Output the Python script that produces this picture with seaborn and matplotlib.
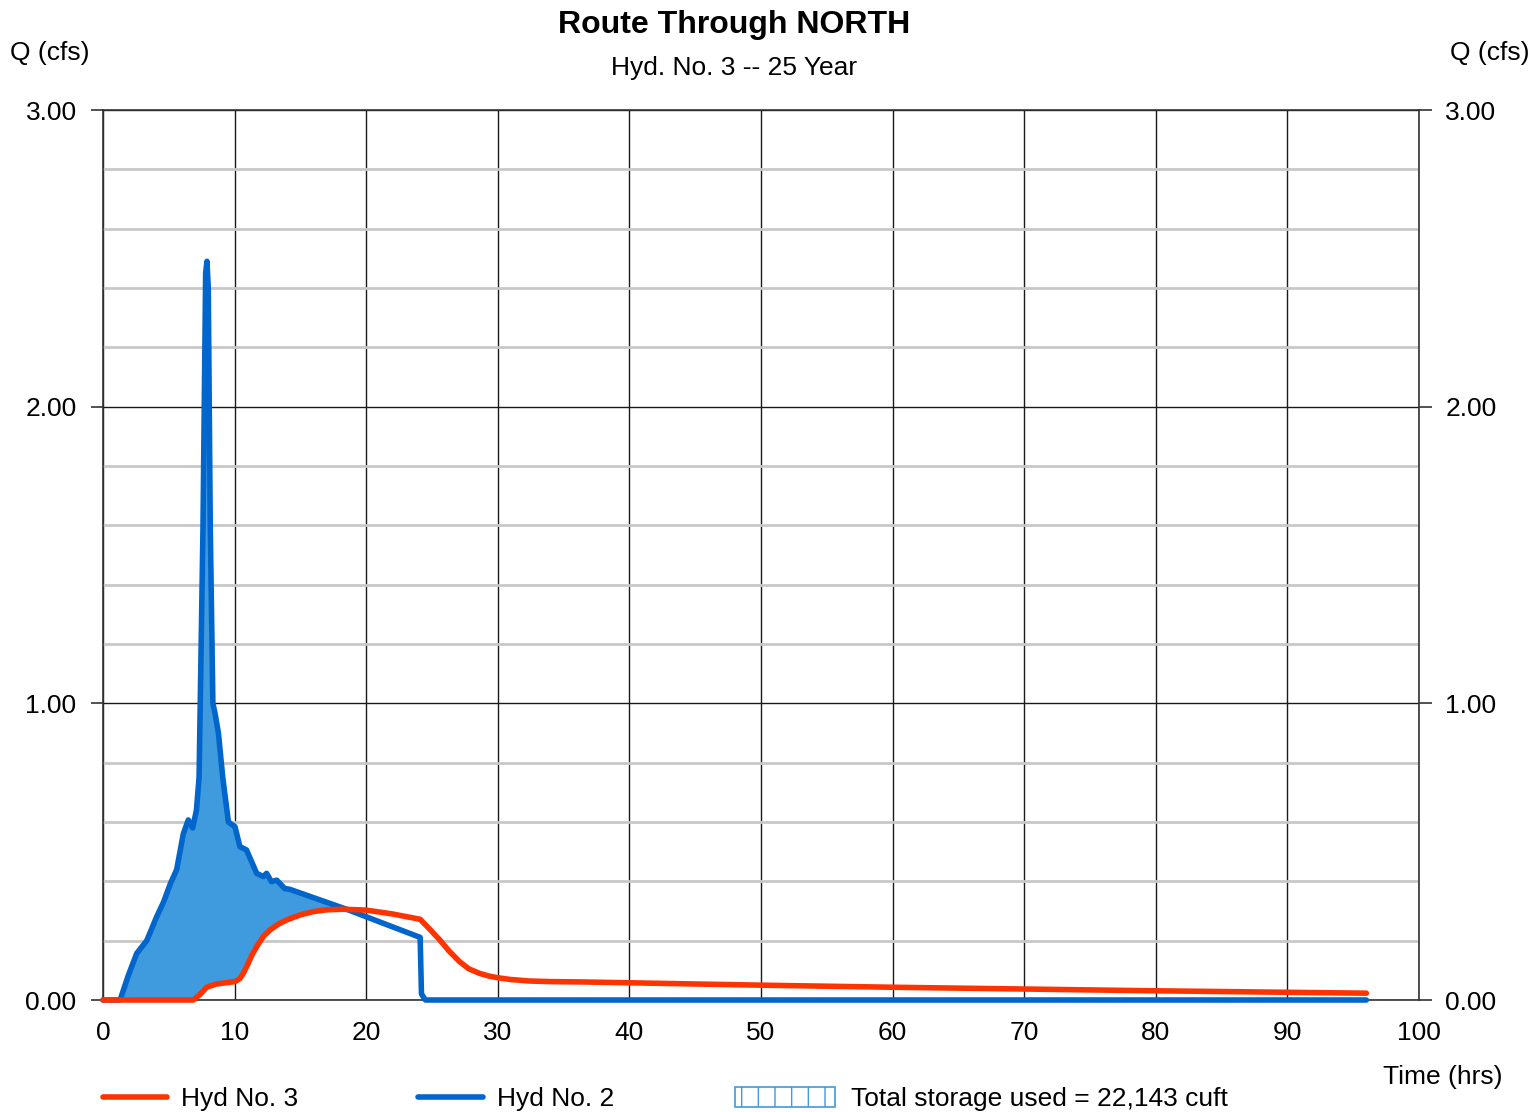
import numpy as np
import pandas as pd
import matplotlib
matplotlib.use("Agg")
import matplotlib.pyplot as plt
from matplotlib.lines import Line2D
from matplotlib.patches import Rectangle
from matplotlib.ticker import MultipleLocator
import seaborn as sns

# Hyd No. 2 (inflow)
inflow_t = [0, 1.3, 1.9, 2.56, 3.32, 3.7, 4.07, 4.6, 5.1, 5.6, 6.1, 6.48, 6.81, 7.1, 7.3, 7.6, 7.8,
            7.9, 8.0, 8.15, 8.35, 8.51, 8.77, 9.1, 9.53, 10.03, 10.4, 10.9, 11.68, 12.18, 12.43,
            12.8, 13.2, 13.8, 14.2, 18.5, 24.1, 24.2, 24.5, 96]
inflow_q = [0, 0.0, 0.08, 0.157, 0.20, 0.24, 0.28, 0.33, 0.39, 0.44, 0.56, 0.607, 0.58, 0.64, 0.75,
            1.6, 2.45, 2.49, 2.40, 1.6, 1.0, 0.967, 0.90, 0.75, 0.60, 0.584, 0.517, 0.506, 0.427,
            0.416, 0.427, 0.399, 0.404, 0.376, 0.373, 0.306, 0.211, 0.02, 0.0, 0.0]

# Hyd No. 3 (routed outflow)
outflow_t = [0, 6.87, 7.4, 7.87, 8.63, 10.03, 10.4, 10.66, 11.0, 11.3, 11.68, 12.2, 12.69, 13.3,
             13.96, 15.0, 15.98, 17.0, 18.26, 20.0, 22.0, 24.1, 24.8, 25.6, 26.3, 27.1, 27.8,
             28.6, 29.3, 30.0, 31.0, 32.4, 34.0, 36.2, 40, 50, 60, 70, 80, 90, 96]
outflow_q = [0, 0, 0.02, 0.043, 0.054, 0.062, 0.072, 0.09, 0.12, 0.15, 0.18, 0.215, 0.236, 0.255,
             0.27, 0.287, 0.298, 0.304, 0.306, 0.303, 0.29, 0.272, 0.24, 0.202, 0.165, 0.129, 0.105,
             0.09, 0.081, 0.075, 0.069, 0.064, 0.062, 0.061, 0.058, 0.050, 0.043, 0.037, 0.031,
             0.026, 0.023]

title = "Route Through NORTH"
subtitle = "Hyd. No. 3 -- 25 Year"
storage_label = "Total storage used = 22,143 cuft"

sns.set_style("white")
plt.rcParams['font.family'] = ['Liberation Sans', 'DejaVu Sans']
plt.rcParams['text.color'] = 'black'

df = pd.concat([
    pd.DataFrame({'t': inflow_t, 'Q': inflow_q, 'hyd': 'Hyd No. 2'}),
    pd.DataFrame({'t': outflow_t, 'Q': outflow_q, 'hyd': 'Hyd No. 3'}),
])
pal = {'Hyd No. 2': '#0066cc', 'Hyd No. 3': '#ff3300'}
fs = 19

fig = plt.figure(figsize=(15.36, 11.12), dpi=100)
ax = fig.add_axes([103/1536, 1 - 1000/1112, 1316/1536, 890/1112])

# storage area between inflow and outflow
tt = np.union1d(inflow_t, outflow_t)
qi = np.interp(tt, inflow_t, inflow_q)
qo = np.interp(tt, outflow_t, outflow_q)
ax.fill_between(tt, qi, qo, where=qi >= qo, interpolate=True, color='#3f9ade', lw=0, zorder=2)

sns.lineplot(data=df[df.hyd == 'Hyd No. 2'], x='t', y='Q', color=pal['Hyd No. 2'], lw=4,
             estimator=None, sort=False, ax=ax, zorder=3, legend=False, clip_on=False)
sns.lineplot(data=df[df.hyd == 'Hyd No. 3'], x='t', y='Q', color=pal['Hyd No. 3'], lw=4,
             estimator=None, sort=False, ax=ax, zorder=4, legend=False, clip_on=False)

ax.set_xlim(0, 100)
ax.set_ylim(0, 3)
ax.xaxis.set_major_locator(MultipleLocator(10))
ax.yaxis.set_major_locator(MultipleLocator(1))
ax.yaxis.set_minor_locator(MultipleLocator(0.2))
ax.yaxis.set_major_formatter(lambda v, p: f"{v:.2f}")
ax.grid(True, which='major', axis='both', color='#1a1a1a', lw=1.0, zorder=1)
ax.grid(True, which='minor', axis='y', color='#c8c8c8', lw=2, zorder=0)
ax.set_axisbelow(True)
for s in ax.spines.values():
    s.set_color('#333333')
    s.set_linewidth(1.2)
ax.set_xlabel('')
ax.set_ylabel('')
ax.tick_params(axis='both', which='major', labelsize=fs, labelcolor='black', direction='out',
               length=9, width=1.2, color='#333333', pad=10)
ax.tick_params(axis='y', which='major', left=True, right=True, labelright=True)
ax.tick_params(axis='x', which='major', bottom=False, pad=6)
ax.tick_params(axis='y', which='minor', left=False, right=False)

fig.text(734/1536, 1 - 25/1112, title, ha='center', va='center', fontsize=23, fontweight='bold')
fig.text(734/1536, 1 - 68/1112, subtitle, ha='center', va='center', fontsize=fs)
fig.text(50/1536, 1 - 53/1112, "Q (cfs)", ha='center', va='center', fontsize=fs)
fig.text(1490/1536, 1 - 53/1112, "Q (cfs)", ha='center', va='center', fontsize=fs)
fig.text(1443/1536, 1 - 1077/1112, "Time (hrs)", ha='center', va='center', fontsize=fs)

# legend along the bottom
ly = 1 - 1097/1112
fig.add_artist(Line2D([103/1536, 167/1536], [ly, ly], color=pal['Hyd No. 3'], lw=4,
                      solid_capstyle='round'))
fig.text(181/1536, ly - 2/1112, "Hyd No. 3", va='center', fontsize=fs)
fig.add_artist(Line2D([418/1536, 483/1536], [ly, ly], color=pal['Hyd No. 2'], lw=4,
                      solid_capstyle='round'))
fig.text(497/1536, ly - 2/1112, "Hyd No. 2", va='center', fontsize=fs)
plt.rcParams['hatch.color'] = '#3f9ade'
plt.rcParams['hatch.linewidth'] = 1.0
fig.add_artist(Rectangle((735/1536, 1 - 1107/1112), 100/1536, 20/1112, transform=fig.transFigure,
                         facecolor='white', edgecolor='#3f9ade', hatch='|', lw=1.2))
fig.text(851/1536, ly - 2/1112, storage_label, va='center', fontsize=fs)

fig.savefig('out.png', dpi=100)
